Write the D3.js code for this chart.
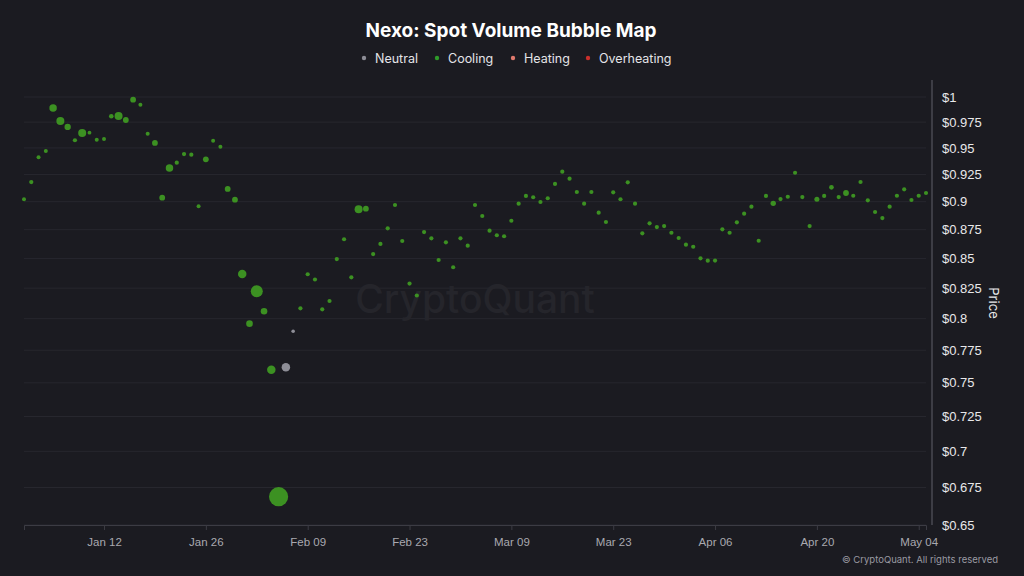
<!DOCTYPE html>
<html>
<head>
<meta charset="utf-8">
<script src="https://cdn.jsdelivr.net/npm/d3@7"></script>
<style>
  html, body { margin: 0; padding: 0; background: #1b1b21; }
  svg { display: block; font-family: Inter, "Noto Sans", sans-serif; }
</style>
</head>
<body>
<div id="main"></div>
<script>
const w = 1024, h = 576;
const plotLeft = 24, plotRight = 926, plotTop = 97, plotBottom = 525;

// daily data, starting Jan 1 2025
const startDate = new Date(2025, 0, 1);
const prices = [
  0.9022, 0.9180, 0.9411, 0.9471, 0.9890, 0.9761, 0.9703, 0.9574, 0.9644, 0.9647,
  0.9579, 0.9586, 0.9808, 0.9811, 0.9771, 0.9973, 0.9923, 0.9637, 0.9548, 0.9036,
  0.9310, 0.9360, 0.9442, 0.9436, 0.8958, 0.9392, 0.9570, 0.9512, 0.9116, 0.9018,
  0.8368, 0.7960, 0.8224, 0.8060, 0.7600, 0.6688, 0.7618, 0.7899, 0.8084, 0.8366,
  0.8322, 0.8076, 0.8144, 0.8495, 0.8666, 0.8340, 0.8931, 0.8937, 0.8538, 0.8625,
  0.8762, 0.8970, 0.8651, 0.8288, 0.8189, 0.8729, 0.8674, 0.8487, 0.8639, 0.8425,
  0.8674, 0.8610, 0.8970, 0.8871, 0.8741, 0.8701, 0.8692, 0.8829, 0.8982, 0.9052,
  0.9040, 0.8997, 0.9031, 0.9162, 0.9276, 0.9211, 0.9088, 0.8982, 0.9088, 0.8901,
  0.8818, 0.9085, 0.9022, 0.9177, 0.8982, 0.8718, 0.8806, 0.8773, 0.8782, 0.8723,
  0.8677, 0.8619, 0.8601, 0.8501, 0.8481, 0.8482, 0.8753, 0.8723, 0.8815, 0.8892,
  0.8955, 0.8653, 0.9052, 0.8985, 0.9024, 0.9045, 0.9266, 0.9042, 0.8782, 0.9022,
  0.9052, 0.9131, 0.9042, 0.9079, 0.9054, 0.9180, 0.9012, 0.8907, 0.8853, 0.8955,
  0.9054, 0.9113, 0.9015, 0.9054, 0.9079
];
const volumes = [
  4, 4.5, 4, 4, 14, 16, 10, 4.5, 16, 3.6,
  4, 4, 5.3, 16, 8.4, 8.4, 4, 4, 8.4, 8.4,
  14, 4.5, 4.5, 4.5, 4, 8.4, 4, 4, 8.4, 8.4,
  18, 11, 36, 11, 18, 92, 18, 3.2, 4.4, 4.4,
  4.4, 4.4, 4.4, 4.4, 4.4, 4.4, 16, 8.4, 4.4, 4.4,
  4.4, 4.4, 4.4, 4.4, 4.4, 4.4, 4.4, 4.4, 4.4, 4.4,
  4.4, 4.4, 4.4, 4.4, 4.4, 4.4, 4.4, 4.4, 4.4, 4.4,
  4.4, 4.4, 4.4, 4.4, 4.4, 4.4, 4.4, 4.4, 4.4, 4.4,
  4.4, 4.4, 4.4, 4.4, 4.4, 4.4, 4.4, 4.4, 4.4, 4.4,
  4.4, 4.4, 4.4, 4.4, 4.4, 4.4, 4.4, 4.4, 4.4, 4.4,
  4.4, 4.4, 4.4, 7.3, 4.4, 4.4, 4.4, 4.4, 4.4, 6.3,
  4.4, 5.5, 4.4, 8.4, 4.4, 4.4, 4.4, 4.4, 4.4, 4.4,
  4.4, 4.4, 4.4, 4.4, 4.4
];
// index of days in the neutral state, all the others are cooling
const neutralDays = [36, 37];

const legendNames = ['Neutral', 'Cooling', 'Heating', 'Overheating'];
const legendColors = ['#8d8d96', '#2f9a2a', '#e07a6e', '#c9302c'];
const yTicks = [1, 0.975, 0.95, 0.925, 0.9, 0.875, 0.85, 0.825, 0.8, 0.775, 0.75, 0.725, 0.7, 0.675, 0.65];
const xTicks = ['2025-01-12', '2025-01-26', '2025-02-09', '2025-02-23', '2025-03-09', '2025-03-23', '2025-04-06', '2025-04-20', '2025-05-04'];

const dataset = prices.map((p, i) => ({
  date: d3.timeDay.offset(startDate, i),
  price: p,
  volume: volumes[i],
  state: neutralDays.includes(i) ? 'Neutral' : 'Cooling'
}));

const svg = d3.select('#main')
  .append('svg')
  .attr('width', w)
  .attr('height', h);

svg.append('rect').attr('width', w).attr('height', h).attr('fill', '#1b1b21');

const xScale = d3.scaleTime()
  .domain([startDate, dataset[dataset.length - 1].date])
  .range([plotLeft, plotRight]);

const yScale = d3.scaleLog()
  .domain([0.65, 1])
  .range([plotBottom, plotTop]);

const rScale = d3.scaleSqrt().domain([0, 100]).range([0, 10]);

const fillOf = {
  Neutral: '#8e8e97',
  Cooling: '#3c9122'
};

// grid
svg.append('g')
  .selectAll('line')
  .data(yTicks)
  .enter()
  .append('line')
  .attr('x1', plotLeft)
  .attr('x2', plotRight)
  .attr('y1', d => yScale(d))
  .attr('y2', d => yScale(d))
  .attr('stroke', '#27272e')
  .attr('stroke-width', 1);

// watermark
svg.append('text')
  .text('CryptoQuant')
  .attr('x', 475)
  .attr('y', 313)
  .attr('text-anchor', 'middle')
  .attr('font-size', 39)
  .attr('font-weight', 500)
  .attr('fill', '#25252b');

// y axis on the right
const yAxis = d3.axisRight(yScale)
  .tickValues(yTicks)
  .tickSize(0)
  .tickPadding(10)
  .tickFormat(d => '$' + (+d.toFixed(3)));

const yG = svg.append('g')
  .attr('id', 'y-axis')
  .attr('transform', 'translate(932,0)')
  .call(yAxis);
yG.select('.domain').remove();
yG.selectAll('text').attr('fill', '#e8e8ea').attr('font-size', 13);
svg.append('line')
  .attr('x1', 932).attr('x2', 932)
  .attr('y1', 80).attr('y2', plotBottom)
  .attr('stroke', '#4a4a52')
  .attr('stroke-width', 1.5);

svg.append('text')
  .text('Price')
  .attr('transform', 'translate(989,303) rotate(90)')
  .attr('text-anchor', 'middle')
  .attr('font-size', 13)
  .attr('fill', '#e8e8ea');

// x axis
const parse = d3.timeParse('%Y-%m-%d');
const xAxis = d3.axisBottom(xScale)
  .tickValues(xTicks.map(parse))
  .tickSize(5)
  .tickPadding(8)
  .tickFormat(d3.timeFormat('%b %d'));

const xG = svg.append('g')
  .attr('id', 'x-axis')
  .attr('transform', 'translate(0,' + plotBottom + ')')
  .call(xAxis);
xG.select('.domain').attr('stroke', '#3c3c44');
xG.selectAll('.tick line').attr('stroke', '#3c3c44');
xG.selectAll('text').attr('fill', '#a9a9b0').attr('font-size', 11.5);

// bubbles
svg.append('g')
  .selectAll('circle')
  .data(dataset)
  .enter()
  .append('circle')
  .attr('cx', d => xScale(d.date))
  .attr('cy', d => yScale(d.price))
  .attr('r', d => rScale(d.volume))
  .attr('fill', d => fillOf[d.state]);

// title
svg.append('text')
  .text('Nexo: Spot Volume Bubble Map')
  .attr('x', 511)
  .attr('y', 37)
  .attr('text-anchor', 'middle')
  .attr('font-size', 19)
  .attr('font-weight', 700)
  .attr('fill', '#ffffff');

// legend
const legendX = [364, 437, 513, 588];
const legend = svg.append('g');
legendNames.forEach((name, i) => {
  legend.append('circle')
    .attr('cx', legendX[i])
    .attr('cy', 58)
    .attr('r', 2.2)
    .attr('fill', legendColors[i]);
  legend.append('text')
    .text(name)
    .attr('x', legendX[i] + 11)
    .attr('y', 62.5)
    .attr('font-size', 12.5)
    .attr('fill', '#e4e4e8');
});

svg.append('text')
  .text('\u00a9 CryptoQuant. All rights reserved')
  .attr('x', 998)
  .attr('y', 563)
  .attr('text-anchor', 'end')
  .attr('font-size', 9.5)
  .attr('fill', '#9a9aa2');
</script>
</body>
</html>
